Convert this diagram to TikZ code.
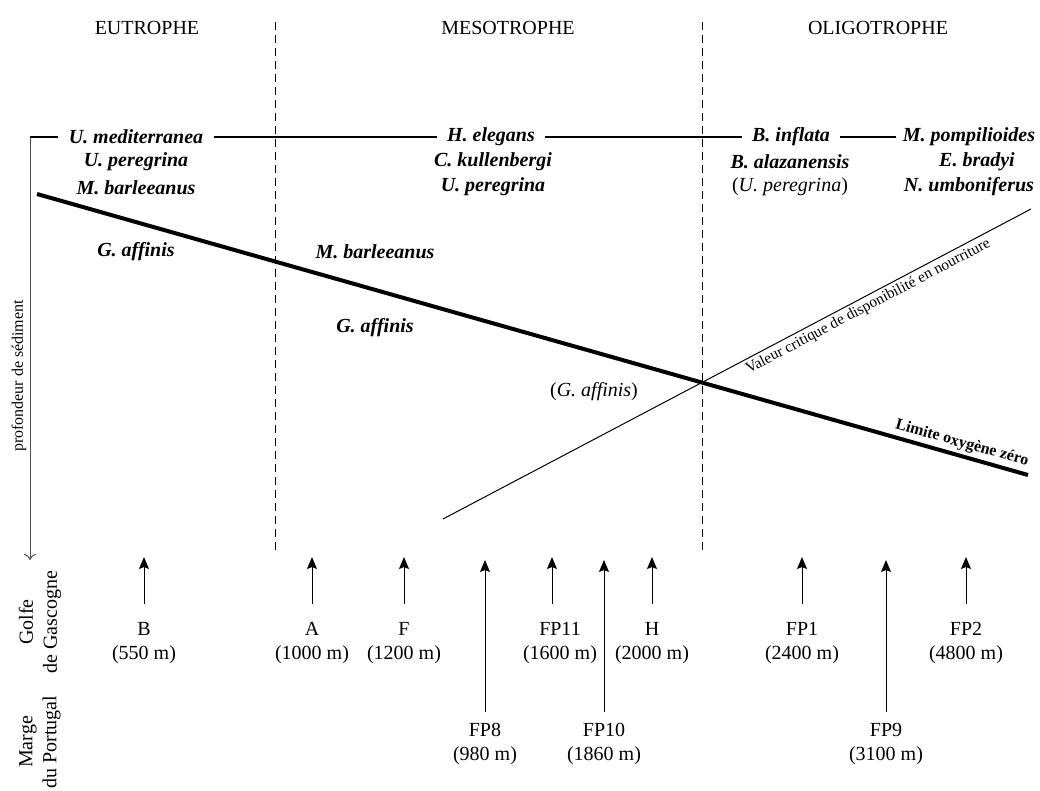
\documentclass[tikz,border=0pt]{standalone}
\usepackage{fontspec}
\setmainfont{Liberation Serif}
\usetikzlibrary{arrows.meta}
\begin{document}
\begin{tikzpicture}[x=0.5pt, y=-0.5pt,
    every node/.style={font=\fontsize{10}{12}\selectfont},
    sp/.style={font=\fontsize{10}{12.5}\selectfont\bfseries\itshape},
    online/.style={sp, inner xsep=5pt},
    zone/.style={line width=0.5pt, dash pattern=on 4pt off 2.5pt},
    stn/.style={line width=0.5pt, -{Stealth[length=6pt, width=5pt, inset=1pt]}},
    stlabel/.style={align=center, inner sep=0pt}]
    \useasboundingbox (0,0) rectangle (1040,791);

    % zones
    \node (eut) at (147,28) {EUTROPHE};
    \node (mes) at (508,28) {MESOTROPHE};
    \node (oli) at (878,28) {OLIGOTROPHE};
    \draw[zone] (275,22) -- (275,552);
    \draw[zone] (702,22) -- (702,552);

    % especes sur la ligne
    \coordinate (top) at (30,137);
    \node[online] (umed) at (136,137) {U. mediterranea};
    \node[online] (hele) at (491,137) {H. elegans};
    \node[online] (binf) at (791,137) {B. inflata};
    \node[online, inner xsep=3pt] (pomp) at (969,137) {M. pompilioides};
    \draw[line width=1pt] (top) -- (umed.west);
    \draw[line width=1pt] (umed.east) -- (hele.west);
    \draw[line width=1pt] (hele.east) -- (binf.west);
    \draw[line width=1pt] (binf.east) -- (pomp.west);

    \node[sp] (uper) at (136,162) {U. peregrina};
    \node[sp] (mbar) at (136,188) {M. barleeanus};
    \node[sp] (ckul) at (493,162) {C. kullenbergi};
    \node[sp] (uperb) at (493,187) {U. peregrina};
    \node[sp] (bala) at (790,162) {B. alazanensis};
    \node (uperc) at (790,187) {(\textit{U. peregrina})};
    \node[sp] (ebra) at (977,162) {E. bradyi};
    \node[sp] (numb) at (969,187) {N. umboniferus};

    % sous la limite
    \node[sp] (gaff) at (136,252) {G. affinis};
    \node[sp] (mbarb) at (375,252) {M. barleeanus};
    \node[sp] (gaffb) at (375,328) {G. affinis};
    \node (gaffc) at (594,392) {(\textit{G. affinis})};

    % axe profondeur
    \coordinate (bot) at (30,560);
    \draw[line width=0.5pt, black!70, -{To[length=3pt, width=6pt]}] (top) -- (bot);
    \node[rotate=90, font=\fontsize{8}{10}\selectfont] (prof) at (19,376) {profondeur de sédiment};

    % limite oxygene zero
    \coordinate (ox1) at (37,194);
    \coordinate (ox2) at (1028,475);
    \draw[line width=2pt] (ox1) -- node[sloped, above, pos=0.93, inner sep=1.5pt,
        font=\fontsize{8}{10}\selectfont\bfseries] (lim) {Limite oxygène zéro} (ox2);

    % valeur critique
    \coordinate (vc1) at (443,519);
    \coordinate (vc2) at (1031,209);
    \draw[line width=0.5pt] (vc1) -- coordinate[pos=0.715] (vcm) (vc2);
    \node[rotate=27.8, anchor=north, inner sep=1.5pt, font=\fontsize{7.7}{9}\selectfont]
        (val) at (vcm) {Valeur critique de disponibilité en nourriture};

    % regions
    \node[rotate=90, align=center] (golfe) at (40,622) {Golfe\\de Gascogne};
    \node[rotate=90, align=center] (marge) at (40,742) {Marge\\du Portugal};

    % stations Golfe de Gascogne
    \foreach \name/\x/\lx/\dep in {B/144/144/550, A/312/312/1000, F/404/404/1200,
        FP11/552/560/1600, H/652/652/2000, FP1/802/802/2400, FP2/966/966/4800} {
        \node[stlabel] (gg\name) at (\lx,643) {\name\\(\dep~m)};
        \draw[stn] (\x,604) coordinate (s\name) -- (\x,557) coordinate (t\name);
    }

    % stations Marge du Portugal
    \foreach \name/\x/\dep in {FP8/485/980, FP10/604/1860, FP9/886/3100} {
        \node[stlabel] (mp\name) at (\x,744) {\name\\(\dep~m)};
        \draw[stn] (\x,712) coordinate (s\name) -- (\x,560) coordinate (t\name);
    }
\end{tikzpicture}
\end{document}
